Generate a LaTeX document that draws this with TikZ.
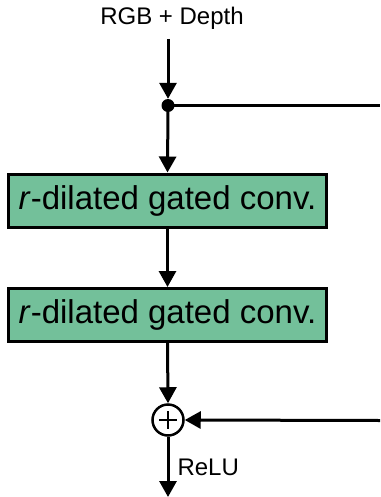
\documentclass[tikz,border=0pt]{standalone}
\usepackage{fontspec}
\setmainfont{Liberation Sans}
\usetikzlibrary{arrows.meta,calc}
\definecolor{convgreen}{RGB}{115,192,154}
\begin{document}
\begin{tikzpicture}[x=1pt,y=-1pt,
  flow/.style={line width=3pt,-{Triangle[length=16pt,width=17pt]}},
  plainline/.style={line width=3pt},
  convbox/.style={draw=black,line width=3pt,fill=convgreen,minimum width=318pt,
    minimum height=53pt,inner sep=0pt,font=\fontsize{33}{36}\selectfont},
  lbl/.style={font=\fontsize{24}{26}\selectfont,inner sep=0pt}]
\useasboundingbox (0,0) rectangle (380,497);
% input label and split point
\node[lbl,anchor=base] (in) at (172,25) {RGB + Depth};
\coordinate (inTop) at (168,39);
\node[circle,fill=black,minimum size=13pt,inner sep=0pt] (split) at (168,105.5) {};
\coordinate (skipR) at (380,105.5);
% two dilated gated convolutions
\node[convbox] (c1) at (167.5,200.5) {\textit{r}-dilated gated conv.};
\node[convbox] (c2) at (167.5,315) {\textit{r}-dilated gated conv.};
% residual sum
\node[circle,draw=black,line width=2.5pt,minimum size=31pt,inner sep=0pt] (sum) at (168,420) {};
\draw[line width=2.5pt] ($(sum.center)+(-9,0)$) -- ($(sum.center)+(9,0)$)
  ($(sum.center)+(0,-9)$) -- ($(sum.center)+(0,9)$);
\coordinate (sumR) at (380,420.5);
\coordinate (outB) at (168,497);
% connectors
\draw[flow] (inTop) -- (split.north);
\draw[plainline] (split.center) -- (skipR);
\draw[flow] (split.center) -- (c1.north);
\draw[flow] (c1.south) -- (c2.north);
\draw[flow] (c2.south) -- (sum.north);
\draw[flow] (sumR) -- (sum.east);
\draw[flow] (sum.south) -- node[lbl,right=8pt,pos=0.5] {ReLU} (outB);
\end{tikzpicture}
\end{document}
